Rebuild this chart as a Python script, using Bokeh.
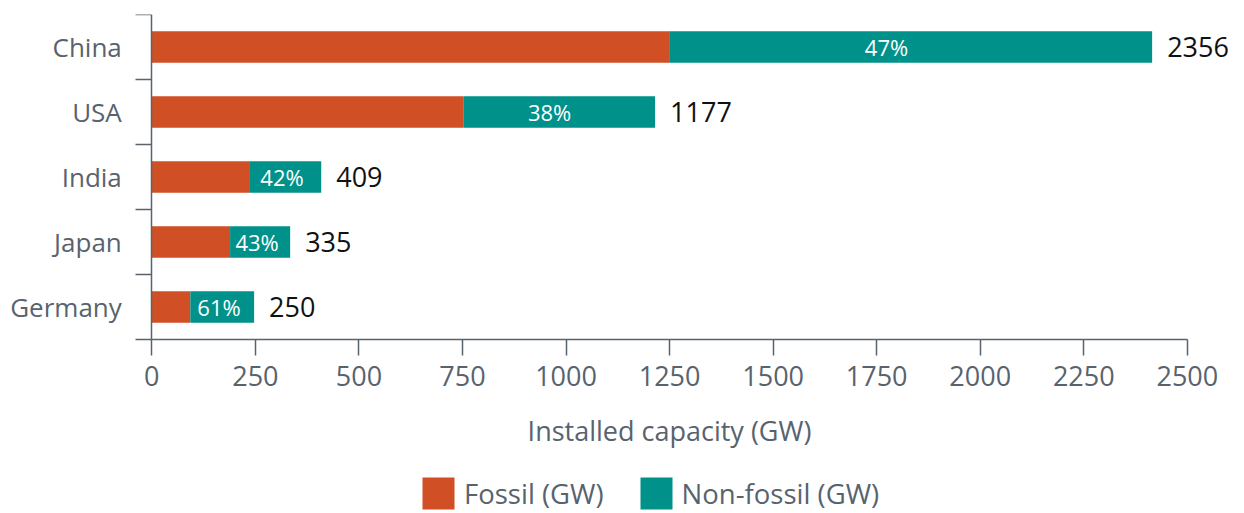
from bokeh.plotting import figure
from bokeh.models import Range1d, FixedTicker, ColumnDataSource, Legend, LegendItem
from bokeh.core.properties import value
from bokeh.embed import file_html
from bokeh.resources import INLINE

# ---- data (bottom to top) ----
countries = ["Germany", "Japan", "India", "USA", "China"]
fossil_gw = [93, 189, 237, 752, 1249]
non_fossil_gw = [154, 145, 172, 463, 1166]
total_labels = ["250", "335", "409", "1177", "2356"]
share_labels = ["61%", "43%", "42%", "38%", "47%"]
x_ticks = [0, 250, 500, 750, 1000, 1250, 1500, 1750, 2000, 2250, 2500]

FONT = "Open Sans"
GREY = "#58636e"
ORANGE = "#d14f24"
TEAL = "#00918a"

n_cat = len(countries)
ypos = [i + 0.5 for i in range(n_cat)]
totals = [f + n for f, n in zip(fossil_gw, non_fossil_gw)]
share_x = [f + 0.45 * n for f, n in zip(fossil_gw, non_fossil_gw)]

src = ColumnDataSource(dict(
    y=ypos, fossil=fossil_gw, total=totals, share_x=share_x,
    total_lbl=total_labels, share_lbl=share_labels,
))

# the frame covers the whole canvas; both axes are pinned at 0 inside it
p = figure(frame_width=1244, frame_height=499, output_backend="svg", toolbar_location=None,
           x_range=Range1d(-365.3, 2638), y_range=Range1d(-2.677, n_cat),
           min_border_left=0, min_border_right=0, min_border_top=14, min_border_bottom=0)
p.outline_line_color = None
p.grid.visible = False
p.background_fill_color = "white"

r1 = p.hbar(y="y", left=0, right="fossil", height=0.485, fill_color=ORANGE,
            line_color=None, source=src)
r2 = p.hbar(y="y", left="fossil", right="total", height=0.485, fill_color=TEAL,
            line_color=None, source=src)

p.text(x="share_x", y="y", text="share_lbl", text_align="center", text_baseline="middle",
       text_color="white", text_font=value(FONT), text_font_size="22px", source=src)
p.text(x="total", y="y", text="total_lbl", x_offset=15, text_align="left",
       text_baseline="middle", text_color="#111111", text_font=value(FONT),
       text_font_size="27px", source=src)

# y axis: category names at band centres, separator ticks at band edges
yax = p.yaxis[0]
yax.fixed_location = 0
yax.ticker = FixedTicker(ticks=ypos, minor_ticks=list(range(n_cat + 1)))
yax.bounds = (0, n_cat)
yax.major_label_overrides = {y: c for y, c in zip(ypos, countries)}
yax.major_tick_out = 0
yax.major_tick_in = 0
yax.minor_tick_out = 16
yax.minor_tick_in = 0
yax.major_label_standoff = 14
yax.axis_line_color = GREY
yax.minor_tick_line_color = GREY
yax.axis_line_width = 1.5
yax.minor_tick_line_width = 1.5
yax.major_label_text_font = FONT
yax.major_label_text_font_size = "26px"
yax.major_label_text_color = GREY

xax = p.xaxis[0]
xax.fixed_location = 0
xax.ticker = FixedTicker(ticks=x_ticks)
xax.bounds = (0, 2500)
xax.major_tick_out = 16
xax.major_tick_in = 0
xax.minor_tick_line_color = None
xax.axis_line_color = GREY
xax.major_tick_line_color = GREY
xax.axis_line_width = 1.5
xax.major_tick_line_width = 1.5
xax.major_label_standoff = 11
xax.major_label_text_font = FONT
xax.major_label_text_font_size = "27px"
xax.major_label_text_color = GREY
xax.axis_label = "Installed capacity (GW)"
xax.axis_label_text_font = FONT
xax.axis_label_text_font_size = "27px"
xax.axis_label_text_font_style = "normal"
xax.axis_label_text_color = GREY
xax.axis_label_standoff = 22

legend = Legend(items=[LegendItem(label="Fossil (GW)", renderers=[r1]),
                       LegendItem(label="Non-fossil (GW)", renderers=[r2])],
                orientation="horizontal", location=(418, 0))
legend.glyph_width = 40
legend.glyph_height = 40
legend.label_height = 40
legend.label_standoff = 6
legend.spacing = 32
legend.padding = 0
legend.margin = 0
legend.border_line_color = None
legend.background_fill_alpha = 0
legend.label_text_font = FONT
legend.label_text_font_size = "27.5px"
legend.label_text_color = GREY
p.add_layout(legend)

open("out.html", "w").write(file_html(p, INLINE))
